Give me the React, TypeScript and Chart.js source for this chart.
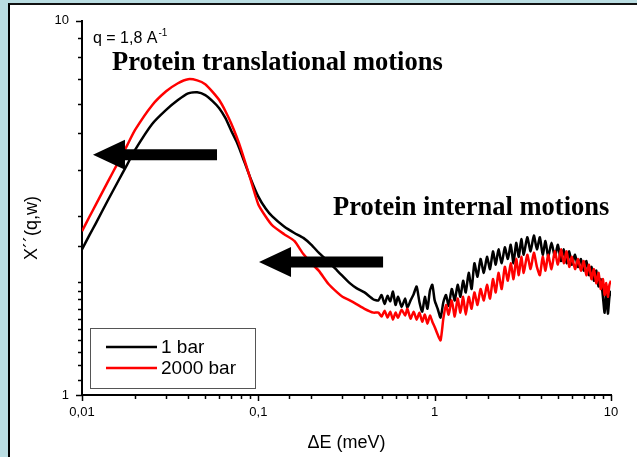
import React, { useEffect, useRef } from "react";
import { Chart, registerables } from "chart.js";

Chart.register(...registerables);

// ---------- data ----------
const energies = [
  0.01, 0.011, 0.012, 0.014, 0.016, 0.018, 0.02, 0.025, 0.03, 0.035,
  0.04, 0.045, 0.05, 0.055, 0.06, 0.065, 0.07, 0.075, 0.08, 0.09,
  0.1, 0.11, 0.12, 0.14, 0.16, 0.18, 0.2, 0.22, 0.25, 0.28,
  0.3, 0.33, 0.36, 0.4, 0.45,
  0.48, 0.5, 0.52, 0.54, 0.56, 0.58, 0.6, 0.62, 0.65, 0.68,
  0.7, 0.73, 0.76, 0.79, 0.82, 0.85, 0.88, 0.91, 0.94, 0.97,
  1.0, 1.04, 1.08, 1.12, 1.16, 1.2, 1.25, 1.3, 1.35, 1.4,
  1.45, 1.5, 1.56, 1.62, 1.68, 1.75, 1.82, 1.9, 1.98, 2.06,
  2.14, 2.22, 2.3, 2.4, 2.5, 2.6, 2.7, 2.8, 2.9, 3.0,
  3.1, 3.2, 3.35, 3.5, 3.65, 3.8, 3.95, 4.1, 4.25, 4.4,
  4.6, 4.8, 5.0, 5.2, 5.4, 5.6, 5.8, 6.0, 6.25, 6.5,
  6.75, 7.0, 7.25, 7.5, 7.75, 8.0, 8.25, 8.5, 8.75, 9.0,
  9.2, 9.4, 9.6, 9.8, 10.0,
];

const oneBar = [
  2.45, 2.67, 2.88, 3.31, 3.72, 4.12, 4.52, 5.30, 5.78, 6.14,
  6.40, 6.44, 6.33, 6.10, 5.84, 5.50, 5.10, 4.77, 4.42, 3.81,
  3.39, 3.15, 3.00, 2.82, 2.71, 2.63, 2.52, 2.40, 2.27, 2.15,
  2.08, 1.99, 1.93, 1.88, 1.80,
  1.79, 1.85, 1.75, 1.84, 1.78, 1.89, 1.74, 1.83, 1.72, 1.81,
  1.71, 1.79, 1.86, 1.95, 1.77, 1.67, 1.83, 1.70, 1.90, 1.97,
  1.79, 1.70, 1.61, 1.77, 1.85, 1.73, 1.92, 1.79, 1.97, 1.83,
  2.02, 1.88, 2.12, 1.92, 2.25, 2.07, 2.31, 2.12, 2.34, 2.17,
  2.42, 2.23, 2.45, 2.25, 2.48, 2.31, 2.52, 2.25, 2.55, 2.34,
  2.61, 2.37, 2.64, 2.42, 2.67, 2.45, 2.64, 2.37, 2.58, 2.34,
  2.55, 2.34, 2.52, 2.28, 2.45, 2.25, 2.42, 2.23, 2.37, 2.20,
  2.31, 2.15, 2.28, 2.09, 2.20, 2.02, 2.15, 1.95, 2.04, 1.83,
  1.66, 1.88, 1.65, 1.83, 1.90,
];

const twoThousandBar = [
  2.74, 2.99, 3.23, 3.71, 4.18, 4.64, 5.11, 5.95, 6.48, 6.81,
  6.98, 6.93, 6.77, 6.46, 6.14, 5.74, 5.33, 4.92, 4.52, 3.79,
  3.23, 3.00, 2.84, 2.69, 2.58, 2.38, 2.25, 2.15, 1.98, 1.88,
  1.83, 1.79, 1.75, 1.70, 1.66,
  1.66, 1.62, 1.68, 1.61, 1.67, 1.59, 1.66, 1.61, 1.69, 1.63,
  1.70, 1.60, 1.67, 1.59, 1.66, 1.57, 1.64, 1.55, 1.63, 1.57,
  1.52, 1.45, 1.40, 1.60, 1.74, 1.64, 1.79, 1.62, 1.81, 1.66,
  1.83, 1.64, 1.83, 1.70, 1.88, 1.74, 1.92, 1.79, 1.97, 1.81,
  2.04, 1.88, 2.12, 1.92, 2.20, 2.02, 2.25, 2.04, 2.31, 2.09,
  2.34, 2.12, 2.37, 2.17, 2.40, 2.20, 2.09, 2.34, 2.15, 2.37,
  2.17, 2.42, 2.23, 2.45, 2.25, 2.42, 2.20, 2.34, 2.17, 2.31,
  2.15, 2.28, 2.09, 2.23, 2.04, 2.17, 1.99, 2.12, 1.92, 2.04,
  1.85, 1.99, 1.83, 1.97, 2.02,
];

const seriesNames = ["1 bar", "2000 bar"];
const seriesColors = ["#000000", "#ff0000"];

const xMajorTicks = [0.01, 0.1, 1, 10];
const xMajorLabels = ["0,01", "0,1", "1", "10"];
const yMajorTicks = [1, 10];
const yMajorLabels = ["1", "10"];

const xAxisTitle = "\u0394E (meV)";
const yAxisTitle = "X\u00b4\u00b4(q,w)";

// annotations, positioned in data coordinates
const qLabel = "q = 1,8 A";
const qSuperscript = "-1";
const qAnchor = [0.01154, 8.74];
const annotationTexts = ["Protein translational motions", "Protein internal motions"];
const annotationAnchors = [
  [0.01479, 7.37],
  [0.2652, 3.02],
];
// arrows: tail x, tip x, level y
const arrowTails = [0.0583, 0.5098];
const arrowTips = [0.01154, 0.1009];
const arrowLevels = [4.385, 2.267];

const SANS = "'Liberation Sans', Arial, Helvetica, sans-serif";
const SERIF = "'Liberation Serif', 'Times New Roman', Times, serif";

const findLabel = (v: number, ticks: number[], labels: string[]) => {
  const i = ticks.findIndex((t) => Math.abs(t - v) / t < 1e-6);
  return i >= 0 ? labels[i] : "";
};
const isDecade = (v: number) => {
  const l = Math.log10(v);
  return Math.abs(l - Math.round(l)) < 1e-6;
};

const figurePlugin = {
  id: "figureDecor",
  afterDraw(chart: any) {
    const { ctx, chartArea, scales } = chart;
    const xs = scales.x;
    const ys = scales.y;
    ctx.save();

    // tick marks (major longer than minor), outward
    ctx.strokeStyle = "#000";
    ctx.lineWidth = 1.5;
    for (const t of xs.ticks) {
      const px = Math.round(xs.getPixelForValue(t.value)) + 0.5;
      const len = isDecade(t.value) ? 6 : 4;
      ctx.beginPath();
      ctx.moveTo(px, chartArea.bottom);
      ctx.lineTo(px, chartArea.bottom + len);
      ctx.stroke();
    }
    for (const t of ys.ticks) {
      const py = Math.round(ys.getPixelForValue(t.value)) + 0.5;
      const len = isDecade(t.value) ? 6 : 4;
      ctx.beginPath();
      ctx.moveTo(chartArea.left, py);
      ctx.lineTo(chartArea.left - len, py);
      ctx.stroke();
    }

    // axis titles
    ctx.fillStyle = "#000";
    ctx.font = `18px ${SANS}`;
    ctx.textAlign = "center";
    ctx.textBaseline = "alphabetic";
    ctx.fillText(xAxisTitle, (chartArea.left + chartArea.right) / 2, chartArea.bottom + 53);
    ctx.save();
    ctx.translate(37, (chartArea.top + chartArea.bottom) / 2 + 20);
    ctx.rotate(-Math.PI / 2);
    ctx.fillText(yAxisTitle, 0, 0);
    ctx.restore();

    // q label with superscript
    ctx.textAlign = "left";
    ctx.font = `16px ${SANS}`;
    const qx = xs.getPixelForValue(qAnchor[0]);
    const qy = ys.getPixelForValue(qAnchor[1]);
    ctx.fillText(qLabel, qx, qy);
    const qw = ctx.measureText(qLabel).width;
    ctx.font = `10px ${SANS}`;
    ctx.fillText(qSuperscript, qx + qw + 1, qy - 7);

    // bold serif annotations
    ctx.font = `bold 26.5px ${SERIF}`;
    annotationTexts.forEach((txt, i) => {
      const ax = xs.getPixelForValue(annotationAnchors[i][0]);
      const ay = ys.getPixelForValue(annotationAnchors[i][1]);
      ctx.fillText(txt, ax, ay);
    });

    // arrows
    ctx.fillStyle = "#000";
    arrowTips.forEach((tip, i) => {
      const tx = xs.getPixelForValue(tip);
      const ex = xs.getPixelForValue(arrowTails[i]);
      const y = ys.getPixelForValue(arrowLevels[i]);
      const bx = tx + 32;
      const hh = 15;
      const sh = 5.5;
      ctx.beginPath();
      ctx.moveTo(tx, y);
      ctx.lineTo(bx, y - hh);
      ctx.lineTo(bx, y - sh);
      ctx.lineTo(ex, y - sh);
      ctx.lineTo(ex, y + sh);
      ctx.lineTo(bx, y + sh);
      ctx.lineTo(bx, y + hh);
      ctx.closePath();
      ctx.fill();
    });

    // legend box inside plot area
    const lx = chartArea.left + 8;
    const ly = chartArea.bottom - 67;
    ctx.fillStyle = "#fff";
    ctx.fillRect(lx, ly, 165, 60);
    ctx.strokeStyle = "#555";
    ctx.lineWidth = 1;
    ctx.strokeRect(lx + 0.5, ly + 0.5, 165, 60);
    ctx.font = `19px ${SANS}`;
    ctx.textBaseline = "middle";
    chart.data.datasets.forEach((ds: any, i: number) => {
      const yy = ly + 19 + i * 21;
      ctx.strokeStyle = ds.borderColor;
      ctx.lineWidth = 2.5;
      ctx.beginPath();
      ctx.moveTo(lx + 16, yy);
      ctx.lineTo(lx + 67, yy);
      ctx.stroke();
      ctx.fillStyle = "#000";
      ctx.fillText(ds.label, lx + 71, yy + 1);
    });

    ctx.restore();
  },
};

export default function App() {
  const ref = useRef<HTMLCanvasElement>(null);

  useEffect(() => {
    const canvas = ref.current;
    if (!canvas) return;
    const chart = new Chart(canvas, {
      type: "line",
      data: {
        datasets: [
          {
            label: seriesNames[0],
            data: energies.map((e, i) => ({ x: e, y: oneBar[i] })),
            borderColor: seriesColors[0],
            borderWidth: 2.5,
            pointRadius: 0,
            fill: false,
            order: 2,
            tension: 0.2,
          },
          {
            label: seriesNames[1],
            data: energies.map((e, i) => ({ x: e, y: twoThousandBar[i] })),
            borderColor: seriesColors[1],
            borderWidth: 2.5,
            pointRadius: 0,
            fill: false,
            order: 1,
            tension: 0.2,
          },
        ],
      },
      options: {
        responsive: false,
        animation: false,
        devicePixelRatio: 1,
        events: [],
        layout: { padding: { left: 0, top: 18, right: 26, bottom: 0 } },
        plugins: {
          legend: { display: false },
          tooltip: { enabled: false },
          title: { display: false },
        },
        scales: {
          x: {
            type: "logarithmic",
            position: "bottom",
            min: 0.01,
            max: 10,
            grid: { display: false, drawTicks: false },
            border: { display: true, color: "#000", width: 2 },
            ticks: {
              autoSkip: false,
              maxRotation: 0,
              padding: 10,
              color: "#000",
              font: { family: SANS, size: 13 },
              callback: (v: any) => findLabel(Number(v), xMajorTicks, xMajorLabels),
            },
            afterFit: (s: any) => {
              s.height = 62;
            },
          },
          y: {
            type: "logarithmic",
            position: "left",
            min: 1,
            max: 10,
            grid: { display: false, drawTicks: false },
            border: { display: true, color: "#000", width: 2 },
            ticks: {
              autoSkip: false,
              padding: 13,
              color: "#000",
              font: { family: SANS, size: 13 },
              callback: (v: any) => findLabel(Number(v), yMajorTicks, yMajorLabels),
            },
            afterFit: (s: any) => {
              s.width = 82;
            },
          },
        },
      },
      plugins: [figurePlugin],
    });
    return () => chart.destroy();
  }, []);

  return (
    <div
      style={{
        position: "fixed",
        left: 0,
        top: 0,
        width: 637,
        height: 457,
        overflow: "hidden",
        background: "#badde2",
      }}
    >
      <div
        style={{
          position: "absolute",
          left: 8,
          top: 3,
          width: 660,
          height: 480,
          background: "#ffffff",
          borderLeft: "2px solid #000",
          borderTop: "2px solid #111",
        }}
      />
      <canvas
        ref={ref}
        width={637}
        height={457}
        style={{ position: "absolute", left: 0, top: 0, display: "block" }}
      />
    </div>
  );
}
